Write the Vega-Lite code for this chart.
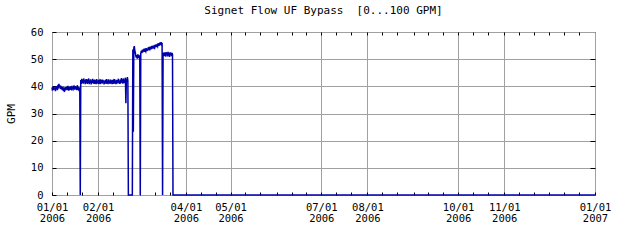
{
  "$schema": "https://vega.github.io/schema/vega-lite/v6.json",
  "width": 543,
  "height": 163,
  "autosize": "none",
  "padding": {"left": 52, "top": 32, "right": 45, "bottom": 45},
  "background": "white",
  "config": {"view": {"stroke": "black", "strokeWidth": 1}, "font": "DejaVu Sans Mono"},
  "title": {"text": "Signet Flow UF Bypass \u00a0[0...100 GPM]", "font": "DejaVu Sans Mono", "fontSize": 11, "fontWeight": "normal", "color": "black", "offset": 11, "anchor": "middle"},
  "data": {
    "format": {"parse": {"t": "date:'%Y-%m-%d %H'"}},
    "values": [
      {"t":"2006-01-01 00","v":39.6},{"t":"2006-01-01 08","v":38.4},{"t":"2006-01-01 16","v":39.9},
      {"t":"2006-01-02 00","v":38.7},{"t":"2006-01-02 08","v":39.8},{"t":"2006-01-02 16","v":38.9},
      {"t":"2006-01-03 00","v":39.5},{"t":"2006-01-03 08","v":38.2},{"t":"2006-01-03 16","v":40.1},
      {"t":"2006-01-04 00","v":39.0},{"t":"2006-01-04 08","v":39.9},{"t":"2006-01-04 16","v":38.6},
      {"t":"2006-01-05 00","v":40.6},{"t":"2006-01-05 08","v":39.2},{"t":"2006-01-05 16","v":40.9},
      {"t":"2006-01-06 00","v":39.8},{"t":"2006-01-06 08","v":40.4},{"t":"2006-01-06 16","v":39.1},
      {"t":"2006-01-07 00","v":40.2},{"t":"2006-01-07 08","v":38.9},{"t":"2006-01-07 16","v":39.7},
      {"t":"2006-01-08 00","v":38.6},{"t":"2006-01-08 08","v":39.9},{"t":"2006-01-08 16","v":38.3},
      {"t":"2006-01-09 00","v":39.4},{"t":"2006-01-09 08","v":37.9},{"t":"2006-01-09 16","v":39.6},
      {"t":"2006-01-10 00","v":38.5},{"t":"2006-01-10 08","v":39.7},{"t":"2006-01-10 16","v":38.8},
      {"t":"2006-01-11 00","v":39.9},{"t":"2006-01-11 08","v":38.6},{"t":"2006-01-11 16","v":40.2},
      {"t":"2006-01-12 00","v":39.1},{"t":"2006-01-12 08","v":38.4},{"t":"2006-01-12 16","v":39.8},
      {"t":"2006-01-13 00","v":38.7},{"t":"2006-01-13 08","v":40.0},{"t":"2006-01-13 16","v":39.3},
      {"t":"2006-01-14 00","v":39.6},{"t":"2006-01-14 08","v":38.5},{"t":"2006-01-14 16","v":39.9},
      {"t":"2006-01-15 00","v":38.9},{"t":"2006-01-15 08","v":40.3},{"t":"2006-01-15 16","v":39.2},
      {"t":"2006-01-16 00","v":39.7},{"t":"2006-01-16 08","v":38.8},{"t":"2006-01-16 16","v":40.1},
      {"t":"2006-01-17 00","v":39.0},{"t":"2006-01-17 08","v":39.8},{"t":"2006-01-17 16","v":38.6},
      {"t":"2006-01-18 00","v":40.4},{"t":"2006-01-18 08","v":39.3},{"t":"2006-01-18 16","v":38.9},
      {"t":"2006-01-19 00","v":39.8},{"t":"2006-01-19 08","v":38.7},{"t":"2006-01-19 16","v":39.5},
      {"t":"2006-01-20 00","v":0},{"t":"2006-01-20 08","v":42.3},{"t":"2006-01-20 16","v":40.9},
      {"t":"2006-01-21 00","v":42.8},{"t":"2006-01-21 08","v":41.2},{"t":"2006-01-21 16","v":42.5},
      {"t":"2006-01-22 00","v":41.0},{"t":"2006-01-22 08","v":42.9},{"t":"2006-01-22 16","v":41.6},
      {"t":"2006-01-23 00","v":42.2},{"t":"2006-01-23 08","v":40.8},{"t":"2006-01-23 16","v":42.6},
      {"t":"2006-01-24 00","v":41.4},{"t":"2006-01-24 08","v":42.7},{"t":"2006-01-24 16","v":40.9},
      {"t":"2006-01-25 00","v":42.4},{"t":"2006-01-25 08","v":41.3},{"t":"2006-01-25 16","v":42.9},
      {"t":"2006-01-26 00","v":40.8},{"t":"2006-01-26 08","v":42.1},{"t":"2006-01-26 16","v":41.5},
      {"t":"2006-01-27 00","v":42.6},{"t":"2006-01-27 08","v":40.7},{"t":"2006-01-27 16","v":42.0},
      {"t":"2006-01-28 00","v":41.3},{"t":"2006-01-28 08","v":42.8},{"t":"2006-01-28 16","v":41.1},
      {"t":"2006-01-29 00","v":42.3},{"t":"2006-01-29 08","v":40.9},{"t":"2006-01-29 16","v":42.5},
      {"t":"2006-01-30 00","v":41.7},{"t":"2006-01-30 08","v":42.2},{"t":"2006-01-30 16","v":40.8},
      {"t":"2006-01-31 00","v":42.7},{"t":"2006-01-31 08","v":41.4},{"t":"2006-01-31 16","v":42.1},
      {"t":"2006-02-01 00","v":40.9},{"t":"2006-02-01 08","v":42.4},{"t":"2006-02-01 16","v":41.6},
      {"t":"2006-02-02 00","v":42.0},{"t":"2006-02-02 08","v":40.8},{"t":"2006-02-02 16","v":42.6},
      {"t":"2006-02-03 00","v":41.2},{"t":"2006-02-03 08","v":42.3},{"t":"2006-02-03 16","v":41.0},
      {"t":"2006-02-04 00","v":42.5},{"t":"2006-02-04 08","v":41.5},{"t":"2006-02-04 16","v":42.2},
      {"t":"2006-02-05 00","v":40.7},{"t":"2006-02-05 08","v":42.0},{"t":"2006-02-05 16","v":41.3},
      {"t":"2006-02-06 00","v":42.4},{"t":"2006-02-06 08","v":40.9},{"t":"2006-02-06 16","v":42.7},
      {"t":"2006-02-07 00","v":41.1},{"t":"2006-02-07 08","v":42.1},{"t":"2006-02-07 16","v":40.8},
      {"t":"2006-02-08 00","v":42.6},{"t":"2006-02-08 08","v":41.4},{"t":"2006-02-08 16","v":42.0},
      {"t":"2006-02-09 00","v":40.9},{"t":"2006-02-09 08","v":42.5},{"t":"2006-02-09 16","v":41.2},
      {"t":"2006-02-10 00","v":42.2},{"t":"2006-02-10 08","v":40.8},{"t":"2006-02-10 16","v":42.4},
      {"t":"2006-02-11 00","v":41.6},{"t":"2006-02-11 08","v":42.0},{"t":"2006-02-11 16","v":40.9},
      {"t":"2006-02-12 00","v":42.7},{"t":"2006-02-12 08","v":41.3},{"t":"2006-02-12 16","v":42.1},
      {"t":"2006-02-13 00","v":40.8},{"t":"2006-02-13 08","v":42.4},{"t":"2006-02-13 16","v":41.0},
      {"t":"2006-02-14 00","v":42.3},{"t":"2006-02-14 08","v":41.5},{"t":"2006-02-14 16","v":42.8},
      {"t":"2006-02-15 00","v":41.1},{"t":"2006-02-15 08","v":42.0},{"t":"2006-02-15 16","v":40.9},
      {"t":"2006-02-16 00","v":42.5},{"t":"2006-02-16 08","v":41.2},{"t":"2006-02-16 16","v":43.0},
      {"t":"2006-02-17 00","v":41.4},{"t":"2006-02-17 08","v":42.6},{"t":"2006-02-17 16","v":41.0},
      {"t":"2006-02-18 00","v":42.9},{"t":"2006-02-18 08","v":41.3},{"t":"2006-02-18 16","v":42.4},
      {"t":"2006-02-19 00","v":41.2},{"t":"2006-02-19 08","v":43.2},{"t":"2006-02-19 16","v":33.8},
      {"t":"2006-02-20 00","v":42.7},{"t":"2006-02-20 08","v":41.5},{"t":"2006-02-20 16","v":43.4},
      {"t":"2006-02-21 00","v":42.0},{"t":"2006-02-21 08","v":0},
      {"t":"2006-02-24 00","v":0},{"t":"2006-02-24 08","v":53.6},{"t":"2006-02-24 16","v":23.3},
      {"t":"2006-02-25 00","v":54.2},{"t":"2006-02-25 08","v":54.8},{"t":"2006-02-25 16","v":53.1},
      {"t":"2006-02-26 00","v":52.4},{"t":"2006-02-26 08","v":51.2},{"t":"2006-02-26 16","v":50.6},
      {"t":"2006-02-27 00","v":51.5},{"t":"2006-02-27 08","v":50.2},{"t":"2006-02-27 16","v":51.8},
      {"t":"2006-02-28 00","v":50.4},{"t":"2006-02-28 08","v":51.6},{"t":"2006-02-28 16","v":50.9},
      {"t":"2006-03-01 00","v":51.3},{"t":"2006-03-01 08","v":0},{"t":"2006-03-01 16","v":52.1},
      {"t":"2006-03-02 00","v":53.0},{"t":"2006-03-02 08","v":52.2},{"t":"2006-03-02 16","v":53.4},
      {"t":"2006-03-03 00","v":52.5},{"t":"2006-03-03 08","v":53.6},{"t":"2006-03-03 16","v":52.8},
      {"t":"2006-03-04 00","v":53.9},{"t":"2006-03-04 08","v":52.7},{"t":"2006-03-04 16","v":53.3},
      {"t":"2006-03-05 00","v":52.9},{"t":"2006-03-05 08","v":54.1},{"t":"2006-03-05 16","v":53.0},
      {"t":"2006-03-06 00","v":53.8},{"t":"2006-03-06 08","v":53.1},{"t":"2006-03-06 16","v":54.3},
      {"t":"2006-03-07 00","v":53.4},{"t":"2006-03-07 08","v":54.5},{"t":"2006-03-07 16","v":53.2},
      {"t":"2006-03-08 00","v":54.6},{"t":"2006-03-08 08","v":53.6},{"t":"2006-03-08 16","v":54.2},
      {"t":"2006-03-09 00","v":53.7},{"t":"2006-03-09 08","v":54.9},{"t":"2006-03-09 16","v":54.0},
      {"t":"2006-03-10 00","v":55.0},{"t":"2006-03-10 08","v":53.9},{"t":"2006-03-10 16","v":54.6},
      {"t":"2006-03-11 00","v":54.2},{"t":"2006-03-11 08","v":55.3},{"t":"2006-03-11 16","v":54.4},
      {"t":"2006-03-12 00","v":55.4},{"t":"2006-03-12 08","v":54.5},{"t":"2006-03-12 16","v":55.1},
      {"t":"2006-03-13 00","v":54.7},{"t":"2006-03-13 08","v":55.8},{"t":"2006-03-13 16","v":54.9},
      {"t":"2006-03-14 00","v":55.9},{"t":"2006-03-14 08","v":55.0},{"t":"2006-03-14 16","v":56.2},
      {"t":"2006-03-15 00","v":55.3},{"t":"2006-03-15 08","v":56.3},{"t":"2006-03-15 16","v":55.5},
      {"t":"2006-03-16 00","v":56.0},{"t":"2006-03-16 08","v":0},{"t":"2006-03-16 16","v":52.4},
      {"t":"2006-03-17 00","v":51.6},{"t":"2006-03-17 08","v":52.5},{"t":"2006-03-17 16","v":51.2},
      {"t":"2006-03-18 00","v":52.3},{"t":"2006-03-18 08","v":50.9},{"t":"2006-03-18 16","v":52.6},
      {"t":"2006-03-19 00","v":51.5},{"t":"2006-03-19 08","v":52.4},{"t":"2006-03-19 16","v":51.0},
      {"t":"2006-03-20 00","v":52.7},{"t":"2006-03-20 08","v":51.3},{"t":"2006-03-20 16","v":52.2},
      {"t":"2006-03-21 00","v":50.8},{"t":"2006-03-21 08","v":52.5},{"t":"2006-03-21 16","v":51.7},
      {"t":"2006-03-22 00","v":52.4},{"t":"2006-03-22 08","v":51.1},{"t":"2006-03-22 16","v":52.3},
      {"t":"2006-03-23 00","v":51.8},{"t":"2006-03-23 08","v":0},
      {"t":"2007-01-01 00","v":0}
    ]
  },
  "layer": [
    {
      "mark": {"type": "line", "color": "#0000aa", "strokeWidth": 1.5},
      "encoding": {
        "x": {
          "field": "t", "type": "temporal",
          "scale": {"domain": [{"year": 2006, "month": 1, "date": 1}, {"year": 2007, "month": 1, "date": 1}]},
          "axis": {
            "orient": "bottom", "title": null, "domain": false,
            "values": [
              {"year":2006,"month":1,"date":1},{"year":2006,"month":1,"date":11},{"year":2006,"month":1,"date":21},
              {"year":2006,"month":2,"date":1},{"year":2006,"month":2,"date":11},{"year":2006,"month":2,"date":21},
              {"year":2006,"month":3,"date":1},{"year":2006,"month":3,"date":11},{"year":2006,"month":3,"date":21},
              {"year":2006,"month":4,"date":1},{"year":2006,"month":4,"date":11},{"year":2006,"month":4,"date":21},
              {"year":2006,"month":5,"date":1},{"year":2006,"month":5,"date":11},{"year":2006,"month":5,"date":21},
              {"year":2006,"month":6,"date":1},{"year":2006,"month":6,"date":11},{"year":2006,"month":6,"date":21},
              {"year":2006,"month":7,"date":1},{"year":2006,"month":7,"date":11},{"year":2006,"month":7,"date":21},
              {"year":2006,"month":8,"date":1},{"year":2006,"month":8,"date":11},{"year":2006,"month":8,"date":21},
              {"year":2006,"month":9,"date":1},{"year":2006,"month":9,"date":11},{"year":2006,"month":9,"date":21},
              {"year":2006,"month":10,"date":1},{"year":2006,"month":10,"date":11},{"year":2006,"month":10,"date":21},
              {"year":2006,"month":11,"date":1},{"year":2006,"month":11,"date":11},{"year":2006,"month":11,"date":21},
              {"year":2006,"month":12,"date":1},{"year":2006,"month":12,"date":11},{"year":2006,"month":12,"date":21},
              {"year":2007,"month":1,"date":1}
            ],
            "labelExpr": "date(datum.value)==1 && indexof([0,1,3,4,6,7,9,10], month(datum.value))>=0 ? [timeFormat(datum.value,'%m/%d'), timeFormat(datum.value,'%Y')] : ''",
            "labelFont": "DejaVu Sans Mono", "labelFontSize": 10.5, "labelColor": "black",
            "labelLineHeight": 11, "labelPadding": 10, "labelFlush": false, "labelOverlap": false,
            "tickSize": -3, "tickColor": "black",
            "grid": true,
            "gridColor": {"condition": {"test": "date(datum.value)==1 && indexof([0,1,3,4,6,7,9,10], month(datum.value))>=0", "value": "#a0a0a0"}, "value": "transparent"}
          }
        },
        "y": {
          "field": "v", "type": "quantitative",
          "scale": {"domain": [0, 60]},
          "axis": {
            "orient": "left", "values": [0, 10, 20, 30, 40, 50, 60], "domain": false,
            "labelFont": "DejaVu Sans Mono", "labelFontSize": 10.5, "labelColor": "black", "labelPadding": 13,
            "tickSize": -4, "tickColor": "black",
            "grid": true, "gridColor": "#a0a0a0",
            "title": "GPM", "titleFont": "DejaVu Sans Mono", "titleFontSize": 11, "titleFontWeight": "normal", "titleColor": "black",
            "titleX": -41, "titleY": 81.5, "titleAngle": -90, "titleAlign": "center", "titleBaseline": "middle"
          }
        }
      }
    },
    {
      "mark": {"type": "line", "strokeOpacity": 0},
      "encoding": {
        "x": {
          "field": "t", "type": "temporal",
          "axis": {
            "orient": "top", "title": null, "domain": false, "labels": false, "grid": false,
            "values": [
              {"year":2006,"month":1,"date":11},{"year":2006,"month":1,"date":21},
              {"year":2006,"month":2,"date":1},{"year":2006,"month":2,"date":11},{"year":2006,"month":2,"date":21},
              {"year":2006,"month":3,"date":1},{"year":2006,"month":3,"date":11},{"year":2006,"month":3,"date":21},
              {"year":2006,"month":4,"date":1},{"year":2006,"month":4,"date":11},{"year":2006,"month":4,"date":21},
              {"year":2006,"month":5,"date":1},{"year":2006,"month":5,"date":11},{"year":2006,"month":5,"date":21},
              {"year":2006,"month":6,"date":1},{"year":2006,"month":6,"date":11},{"year":2006,"month":6,"date":21},
              {"year":2006,"month":7,"date":1},{"year":2006,"month":7,"date":11},{"year":2006,"month":7,"date":21},
              {"year":2006,"month":8,"date":1},{"year":2006,"month":8,"date":11},{"year":2006,"month":8,"date":21},
              {"year":2006,"month":9,"date":1},{"year":2006,"month":9,"date":11},{"year":2006,"month":9,"date":21},
              {"year":2006,"month":10,"date":1},{"year":2006,"month":10,"date":11},{"year":2006,"month":10,"date":21},
              {"year":2006,"month":11,"date":1},{"year":2006,"month":11,"date":11},{"year":2006,"month":11,"date":21},
              {"year":2006,"month":12,"date":1},{"year":2006,"month":12,"date":11},{"year":2006,"month":12,"date":21}
            ],
            "tickSize": -3, "tickColor": "black"
          }
        },
        "y": {
          "field": "v", "type": "quantitative",
          "axis": {"orient": "right", "title": null, "domain": false, "labels": false, "grid": false, "values": [10, 20, 30, 40, 50], "tickSize": -5, "tickColor": "black"}
        }
      }
    }
  ],
  "resolve": {"axis": {"x": "independent", "y": "independent"}}
}
